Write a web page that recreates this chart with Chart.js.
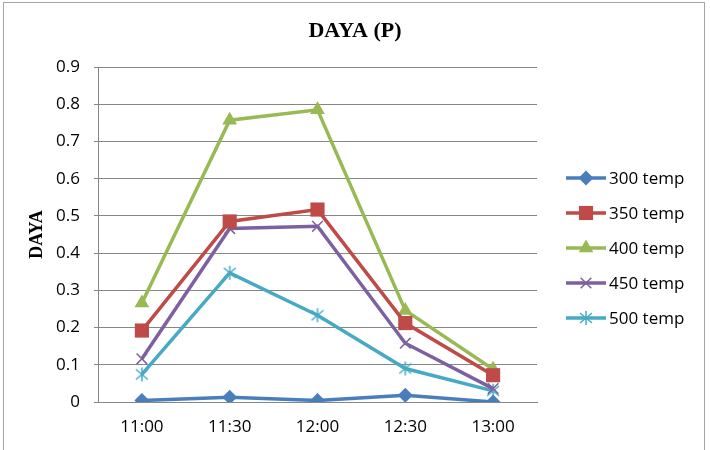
<!DOCTYPE html>
<html>
<head>
<meta charset="utf-8">
<script src="https://cdn.jsdelivr.net/npm/chart.js@4/dist/chart.umd.min.js"></script>
<style>
  html, body { margin: 0; padding: 0; background: #fff; }
  #wrap { width: 710px; height: 450px; position: relative; }
</style>
</head>
<body>
<div id="wrap"><canvas id="dayaChart" width="710" height="450"></canvas></div>
<script>
const times = ["11:00", "11:30", "12:00", "12:30", "13:00"];
const seriesNames = ["300 temp", "350 temp", "400 temp", "450 temp", "500 temp"];
const temp300 = [0.004, 0.013, 0.004, 0.018, 0.0];
const temp350 = [0.192, 0.485, 0.517, 0.212, 0.072];
const temp400 = [0.266, 0.757, 0.785, 0.246, 0.088];
const temp450 = [0.116, 0.466, 0.472, 0.158, 0.036];
const temp500 = [0.074, 0.347, 0.233, 0.09, 0.03];
const yTicks = [0, 0.1, 0.2, 0.3, 0.4, 0.5, 0.6, 0.7, 0.8, 0.9];
const chartTitle = "DAYA (P)";

Chart.defaults.font.family = "'Open Sans', sans-serif";
Chart.defaults.color = "#000";

const serif = "'Liberation Serif', 'Times New Roman', serif";

// asterisk marker like excel's star (x plus vertical bar)
function makeAsterisk(color) {
  const c = document.createElement('canvas');
  c.width = 16; c.height = 16;
  const g = c.getContext('2d');
  g.strokeStyle = color;
  g.lineWidth = 1.5;
  g.beginPath();
  g.moveTo(8, 1); g.lineTo(8, 15);
  g.moveTo(2, 3); g.lineTo(14, 13);
  g.moveTo(14, 3); g.lineTo(2, 13);
  g.stroke();
  return c;
}

function series(label, data, color, style, radius, filled) {
  return {
    label: label,
    data: data,
    borderColor: color,
    backgroundColor: color,
    borderWidth: 3.5,
    pointStyle: style,
    pointRadius: radius,
    pointHoverRadius: radius,
    pointBackgroundColor: filled ? color : 'rgba(0,0,0,0)',
    pointBorderColor: color,
    pointBorderWidth: filled ? 0 : 1.5,
    tension: 0
  };
}

const datasets = [
  series(seriesNames[0], temp300, '#4A7EBB', 'rectRot', 7.5, true),
  series(seriesNames[1], temp350, '#BE4B48', 'rect', 10, true),
  series(seriesNames[2], temp400, '#98B954', 'triangle', 8.5, true),
  series(seriesNames[3], temp450, '#7D60A0', 'crossRot', 7.5, false),
  series(seriesNames[4], temp500, '#46AAC5', makeAsterisk('#46AAC5'), 8, false)
];

const frame = {
  id: 'frame',
  beforeDraw(chart) {
    const ctx = chart.ctx;
    ctx.save();
    ctx.fillStyle = '#fff';
    ctx.fillRect(0, 0, chart.width, chart.height);
    ctx.strokeStyle = '#a6a6a6';
    ctx.lineWidth = 1;
    ctx.strokeRect(3.5, 2.5, 701, 470);
    // title, centred on the whole chart box
    ctx.fillStyle = '#000';
    ctx.font = "bold 22px " + serif;
    ctx.textAlign = 'center';
    ctx.textBaseline = 'middle';
    ctx.fillText(chartTitle, 355, 31);
    ctx.restore();
  }
};

const sideLegend = {
  id: 'sideLegend',
  afterDraw(chart) {
    const ctx = chart.ctx;
    chart.data.datasets.forEach((ds, i) => {
      const y = 178 + i * 35;
      ctx.save();
      ctx.strokeStyle = ds.borderColor;
      ctx.lineWidth = ds.borderWidth;
      ctx.beginPath();
      ctx.moveTo(566, y);
      ctx.lineTo(606, y);
      ctx.stroke();
      ctx.fillStyle = ds.pointBackgroundColor;
      ctx.strokeStyle = ds.pointBorderColor;
      ctx.lineWidth = ds.pointBorderWidth;
      Chart.helpers.drawPoint(ctx, {
        pointStyle: ds.pointStyle,
        radius: ds.pointRadius,
        borderWidth: ds.pointBorderWidth,
        rotation: 0
      }, 586, y);
      ctx.fillStyle = '#000';
      ctx.font = "17px 'Open Sans', sans-serif";
      ctx.textBaseline = 'middle';
      ctx.textAlign = 'left';
      ctx.fillText(ds.label, 609, y + 1);
      ctx.restore();
    });
  }
};

new Chart(document.getElementById('dayaChart'), {
  type: 'line',
  data: { labels: times, datasets: datasets },
  plugins: [frame, sideLegend],
  options: {
    responsive: false,
    animation: false,
    layout: { padding: { left: 20, top: 67, right: 173, bottom: 10 } },
    scales: {
      x: {
        offset: true,
        grid: { display: false, offset: true },
        border: { display: true, color: '#868686', width: 1 },
        ticks: { padding: 7, font: { size: 17 }, color: '#000' },
        afterFit(scale) { scale.height = 38; }
      },
      y: {
        min: 0,
        max: 0.9,
        afterBuildTicks(scale) { scale.ticks = yTicks.map(v => ({ value: v })); },
        grid: { color: '#868686', lineWidth: 1, tickLength: 4 },
        border: { display: true, color: '#868686', width: 1 },
        ticks: {
          padding: 14,
          font: { size: 17 },
          color: '#000',
          callback: v => String(+Number(v).toFixed(1))
        },
        title: {
          display: true,
          text: 'DAYA',
          font: { family: serif, size: 18, weight: 'bold' },
          color: '#000',
          padding: { top: 7, bottom: 0 }
        },
        afterFit(scale) { scale.width = 78; }
      }
    },
    plugins: {
      legend: { display: false },
      tooltip: { enabled: false },
      title: { display: false }
    }
  }
});
</script>
</body>
</html>
